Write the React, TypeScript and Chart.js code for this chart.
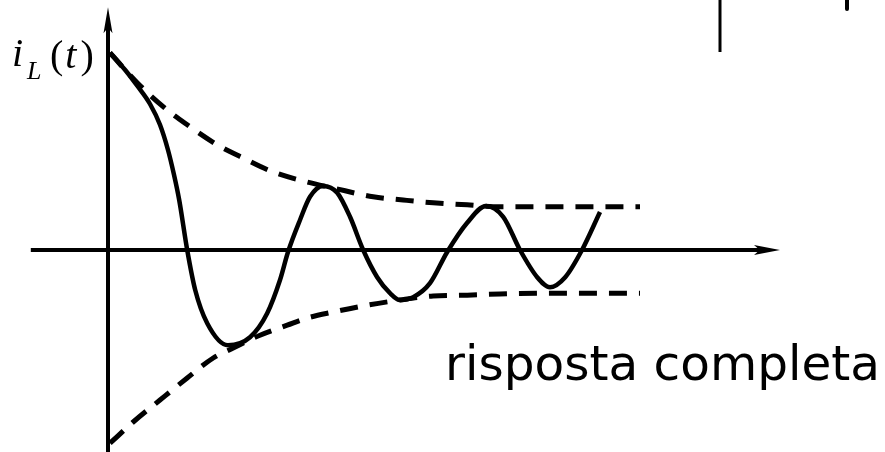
import React, { useEffect, useRef } from "react";
import { Chart, registerables } from "chart.js";

Chart.register(...registerables);

// Complete response i_L(t) (solid curve)
const responseT = [0.05, 0.43, 0.75, 1.05, 1.3, 1.5, 1.65, 1.78, 1.98, 2.18, 2.48, 3.0, 3.55, 3.98, 4.3, 4.5, 4.8, 5.05, 5.38, 5.73, 6.05, 6.38, 6.73, 7.05, 7.3, 7.63, 8.05, 8.48, 8.98, 9.45, 9.88, 10.3, 10.73, 11.05, 11.43, 11.85, 12.3];
const responseI = [4.93, 4.5, 4.08, 3.65, 3.13, 2.5, 1.88, 1.25, 0, -1.0, -1.83, -2.38, -2.18, -1.58, -0.75, -0.05, 0.75, 1.33, 1.6, 1.43, 0.83, 0, -0.68, -1.08, -1.25, -1.18, -0.83, -0.05, 0.68, 1.1, 0.83, 0, -0.68, -0.93, -0.68, 0, 0.95];

// Upper dashed envelope
const upperT = [0.05, 0.73, 1.48, 1.98, 2.73, 3.38, 4.13, 4.98, 5.63, 6.63, 7.38, 8.13, 8.98, 9.8, 11.48, 13.3];
const upperI = [4.93, 4.18, 3.5, 3.13, 2.63, 2.3, 1.95, 1.7, 1.55, 1.33, 1.25, 1.18, 1.13, 1.08, 1.08, 1.08];

// Lower dashed envelope
const lowerT = [0.05, 0.63, 1.3, 1.98, 2.63, 3.13, 3.8, 4.48, 4.98, 5.63, 6.48, 7.3, 8.13, 8.98, 9.8, 11.48, 13.3];
const lowerI = [-4.83, -4.3, -3.75, -3.2, -2.7, -2.45, -2.13, -1.88, -1.7, -1.55, -1.38, -1.25, -1.15, -1.13, -1.1, -1.08, -1.08];

// Axis extents (data units)
const X_MIN = -2.7;
const X_MAX = 19.425;
const Y_MIN = -5.05;
const Y_MAX = 6.25;
const X_AXIS_FROM = -1.93;
const X_AXIS_TO = 16.8;
const Y_AXIS_FROM = -5.05;
const Y_AXIS_TO = 6.07;

const Y_LABEL = "i_L(t)";
const CURVE_LABEL = "risposta completa";

const zip = (xs: number[], ys: number[]) => xs.map((x, i) => ({ x, y: ys[i] }));

function arrow(ctx: CanvasRenderingContext2D, tx: number, ty: number, dx: number, dy: number, len: number, half: number) {
  const px = -dy, py = dx;
  const bx = tx - dx * len, by = ty - dy * len;
  const nx = tx - dx * len * 0.78, ny = ty - dy * len * 0.78;
  ctx.beginPath();
  ctx.moveTo(tx, ty);
  ctx.lineTo(bx + px * half, by + py * half);
  ctx.lineTo(nx, ny);
  ctx.lineTo(bx - px * half, by - py * half);
  ctx.closePath();
  ctx.fill();
}

const axesPlugin = {
  id: "axesArrows",
  beforeDatasetsDraw(chart: any) {
    const { ctx, scales } = chart;
    const xs = scales.x, ys = scales.y;
    const x0 = xs.getPixelForValue(0), y0 = ys.getPixelForValue(0);
    ctx.save();
    ctx.strokeStyle = "#000";
    ctx.fillStyle = "#000";
    ctx.lineWidth = 4;
    const xa = xs.getPixelForValue(X_AXIS_FROM), xb = xs.getPixelForValue(X_AXIS_TO);
    ctx.beginPath();
    ctx.moveTo(xa, y0);
    ctx.lineTo(xb - 18, y0);
    ctx.stroke();
    arrow(ctx, xb, y0, 1, 0, 26, 5);
    const ya = ys.getPixelForValue(Y_AXIS_FROM), yb = ys.getPixelForValue(Y_AXIS_TO);
    ctx.beginPath();
    ctx.moveTo(x0, ya);
    ctx.lineTo(x0, yb + 18);
    ctx.stroke();
    arrow(ctx, x0, yb, 0, -1, 26, 4.5);
    ctx.restore();
  },
  afterDraw(chart: any) {
    const { ctx } = chart;
    ctx.save();
    ctx.fillStyle = "#000";
    ctx.textBaseline = "alphabetic";
    // y label i_L(t)
    const [main, rest] = Y_LABEL.split("_");
    const sub = rest.charAt(0);
    const tail = rest.slice(1);
    ctx.font = "italic 40px 'Liberation Serif'";
    ctx.fillText(main, 12, 66);
    ctx.font = "italic 26px 'Liberation Serif'";
    ctx.fillText(sub, 27, 79);
    let x = 50;
    for (const ch of tail) {
      ctx.font = ch === "(" || ch === ")" ? "40px 'Liberation Serif'" : "italic 40px 'Liberation Serif'";
      ctx.fillText(ch, x, 68);
      x += ctx.measureText(ch).width + (ch === "t" ? 4 : 2);
    }
    // curve label
    ctx.font = "44px 'DejaVu Sans'";
    const w = ctx.measureText(CURVE_LABEL).width;
    const target = 435;
    ctx.font = `${(44 * target / w).toFixed(1)}px 'DejaVu Sans'`;
    ctx.fillText(CURVE_LABEL, 445, 380);
    // decorative strokes at top right
    ctx.strokeStyle = "#000";
    ctx.lineWidth = 3;
    ctx.beginPath();
    ctx.moveTo(720, 0);
    ctx.lineTo(720, 52);
    ctx.stroke();
    ctx.lineWidth = 4;
    ctx.lineCap = "round";
    ctx.beginPath();
    ctx.moveTo(847, -2);
    ctx.lineTo(847, 9);
    ctx.stroke();
    ctx.restore();
  },
};

export default function App() {
  const ref = useRef<HTMLCanvasElement>(null);
  useEffect(() => {
    if (!ref.current) return;
    const dashed = {
      borderColor: "#000",
      borderWidth: 5,
      borderDash: [18, 12],
      borderCapStyle: "butt",
      pointRadius: 0,
      fill: false,
      cubicInterpolationMode: "monotone",
    };
    const chart = new Chart(ref.current, {
      type: "line",
      data: {
        datasets: [
          { ...dashed, label: "upper", data: zip(upperT, upperI) } as any,
          { ...dashed, label: "lower", data: zip(lowerT, lowerI) } as any,
          {
            label: "i_L(t)",
            data: zip(responseT, responseI),
            borderColor: "#000",
            borderWidth: 4.5,
            pointRadius: 0,
            fill: false,
            cubicInterpolationMode: "monotone",
          } as any,
        ],
      },
      options: {
        responsive: false,
        maintainAspectRatio: false,
        animation: false,
        layout: { padding: 0 },
        plugins: { legend: { display: false }, tooltip: { enabled: false } },
        scales: {
          x: { type: "linear", min: X_MIN, max: X_MAX, display: false },
          y: { type: "linear", min: Y_MIN, max: Y_MAX, display: false },
        },
      },
      plugins: [axesPlugin],
    });
    return () => chart.destroy();
  }, []);
  return (
    <div style={{ position: "fixed", left: 0, top: 0, width: 885, height: 452, background: "#fff" }}>
      <canvas ref={ref} width={885} height={452} style={{ display: "block", width: 885, height: 452 }} />
    </div>
  );
}
